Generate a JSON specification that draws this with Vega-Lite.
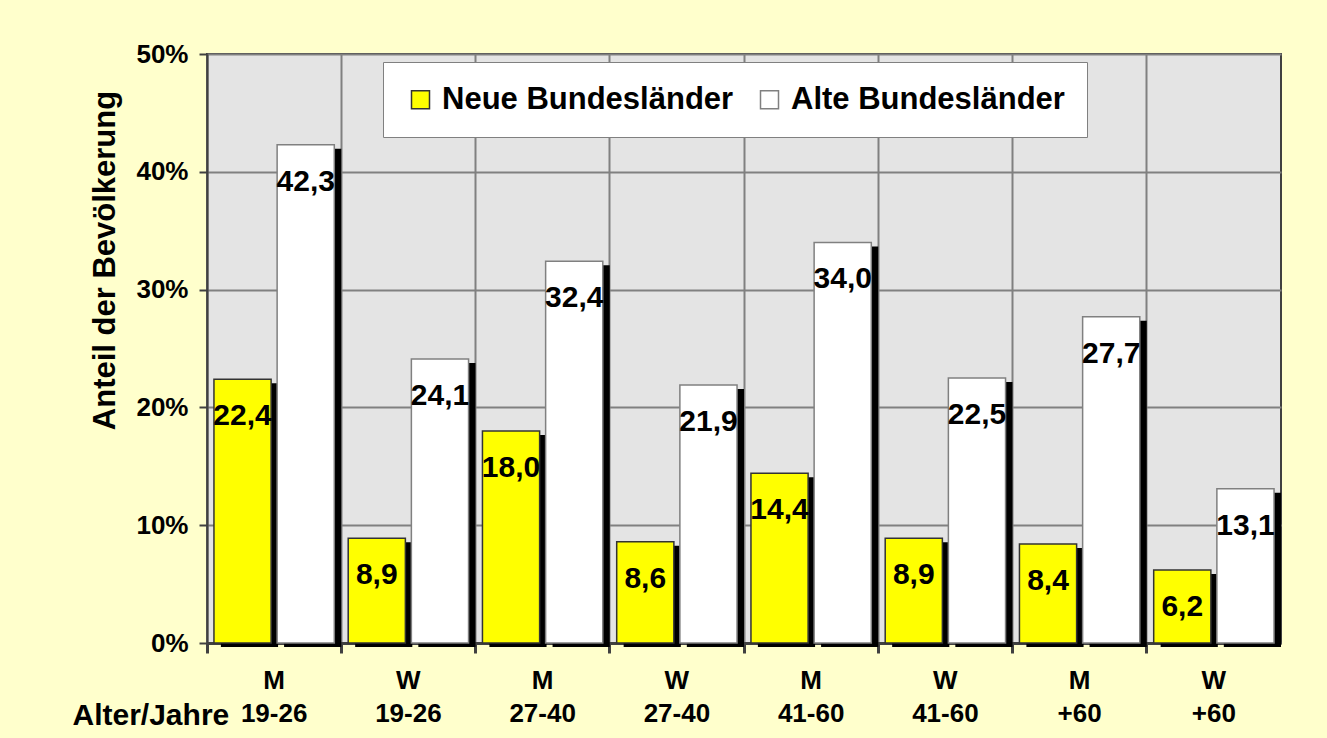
{
  "$schema": "https://vega.github.io/schema/vega-lite/v6.json",
  "width": 1074,
  "height": 589,
  "autosize": {"type": "none"},
  "padding": {"left": 207, "top": 54, "right": 46, "bottom": 95},
  "background": "#FFFFCC",
  "config": {
    "font": "Liberation Sans",
    "locale": {"number": {"decimal": ",", "thousands": ".", "grouping": [3], "currency": ["", " €"]}},
    "view": {"fill": "#E4E4E4", "stroke": "#404040", "strokeWidth": 2}
  },
  "data": {
    "values": [
      {"gruppe": "M 19-26", "region": "Neue Bundesländer", "anteil": 22.4},
      {"gruppe": "M 19-26", "region": "Alte Bundesländer", "anteil": 42.3},
      {"gruppe": "W 19-26", "region": "Neue Bundesländer", "anteil": 8.9},
      {"gruppe": "W 19-26", "region": "Alte Bundesländer", "anteil": 24.1},
      {"gruppe": "M 27-40", "region": "Neue Bundesländer", "anteil": 18.0},
      {"gruppe": "M 27-40", "region": "Alte Bundesländer", "anteil": 32.4},
      {"gruppe": "W 27-40", "region": "Neue Bundesländer", "anteil": 8.6},
      {"gruppe": "W 27-40", "region": "Alte Bundesländer", "anteil": 21.9},
      {"gruppe": "M 41-60", "region": "Neue Bundesländer", "anteil": 14.4},
      {"gruppe": "M 41-60", "region": "Alte Bundesländer", "anteil": 34.0},
      {"gruppe": "W 41-60", "region": "Neue Bundesländer", "anteil": 8.9},
      {"gruppe": "W 41-60", "region": "Alte Bundesländer", "anteil": 22.5},
      {"gruppe": "M +60", "region": "Neue Bundesländer", "anteil": 8.4},
      {"gruppe": "M +60", "region": "Alte Bundesländer", "anteil": 27.7},
      {"gruppe": "W +60", "region": "Neue Bundesländer", "anteil": 6.2},
      {"gruppe": "W +60", "region": "Alte Bundesländer", "anteil": 13.1}
    ]
  },
  "resolve": {"scale": {"xOffset": "independent"}},
  "encoding": {
    "x": {
      "field": "gruppe",
      "type": "nominal",
      "sort": null,
      "scale": {"paddingInner": 0, "paddingOuter": 0},
      "axis": {
        "bandPosition": 0,
        "labelExpr": "split(datum.label, ' ')",
        "labelAngle": 0,
        "labelFontSize": 26,
        "labelFontWeight": "bold",
        "labelColor": "#000000",
        "labelLineHeight": 33,
        "labelPadding": 14,
        "labelBaseline": "top",
        "grid": true,
        "gridColor": "#808080",
        "gridWidth": 2,
        "domainColor": "#404040",
        "domainWidth": 3,
        "tickColor": "#404040",
        "tickWidth": 3,
        "tickSize": 10,
        "title": "Alter/Jahre",
        "titleFontSize": 30,
        "titleFontWeight": "bold",
        "titleColor": "#000000",
        "titleAnchor": "start",
        "titleAlign": "left",
        "titleBaseline": "alphabetic",
        "titleX": -135,
        "titleY": 81
      }
    },
    "xOffset": {
      "field": "region",
      "type": "nominal",
      "sort": ["Neue Bundesländer", "Alte Bundesländer"],
      "scale": {"type": "band", "paddingInner": 0.095, "paddingOuter": 0.11}
    },
    "y": {
      "field": "anteil",
      "type": "quantitative",
      "scale": {"domain": [0, 50], "nice": false},
      "axis": {
        "values": [0, 10, 20, 30, 40, 50],
        "labelExpr": "datum.value + '%'",
        "labelFontSize": 26,
        "labelFontWeight": "bold",
        "labelColor": "#000000",
        "labelPadding": 11,
        "grid": true,
        "gridColor": "#808080",
        "gridWidth": 2,
        "domainColor": "#404040",
        "domainWidth": 2,
        "tickColor": "#404040",
        "tickWidth": 2,
        "tickSize": 8,
        "title": "Anteil der Bevölkerung",
        "titleFontSize": 31,
        "titleFontWeight": "bold",
        "titleColor": "#000000",
        "titleAngle": -90,
        "titleAlign": "center",
        "titleBaseline": "middle",
        "titleX": -102,
        "titleY": 206
      }
    }
  },
  "layer": [
    {
      "mark": {"type": "bar", "color": "#000000", "yOffset": 4},
      "encoding": {
        "xOffset": {
          "field": "region",
          "type": "nominal",
          "sort": ["Neue Bundesländer", "Alte Bundesländer"],
          "scale": {"type": "band", "paddingInner": 0.095, "paddingOuter": 0.11, "align": 1}
        }
      }
    },
    {
      "mark": {"type": "bar", "strokeWidth": 1.5},
      "encoding": {
        "fill": {
          "field": "region",
          "type": "nominal",
          "scale": {"domain": ["Neue Bundesländer", "Alte Bundesländer"], "range": ["#FFFF00", "#FFFFFF"]},
          "legend": {
            "orient": "none",
            "legendX": 176,
            "legendY": 8,
            "direction": "horizontal",
            "title": null,
            "fillColor": "#FFFFFF",
            "strokeColor": "#808080",
            "padding": 22,
            "labelFontSize": 31,
            "labelFontWeight": "bold",
            "labelColor": "#000000",
            "labelLimit": 600,
            "labelOffset": 6,
            "columnPadding": 20,
            "symbolType": "square",
            "symbolSize": 324,
            "symbolStrokeWidth": 1.5
          }
        },
        "stroke": {
          "field": "region",
          "type": "nominal",
          "scale": {"domain": ["Neue Bundesländer", "Alte Bundesländer"], "range": ["#333333", "#808080"]},
          "legend": {
            "orient": "none",
            "legendX": 176,
            "legendY": 8,
            "direction": "horizontal",
            "title": null
          }
        }
      }
    },
    {
      "mark": {"type": "text", "baseline": "top", "dy": 22, "fontSize": 30, "fontWeight": "bold", "color": "#000000"},
      "encoding": {
        "text": {"field": "anteil", "type": "quantitative", "format": ".1f"}
      }
    }
  ]
}
